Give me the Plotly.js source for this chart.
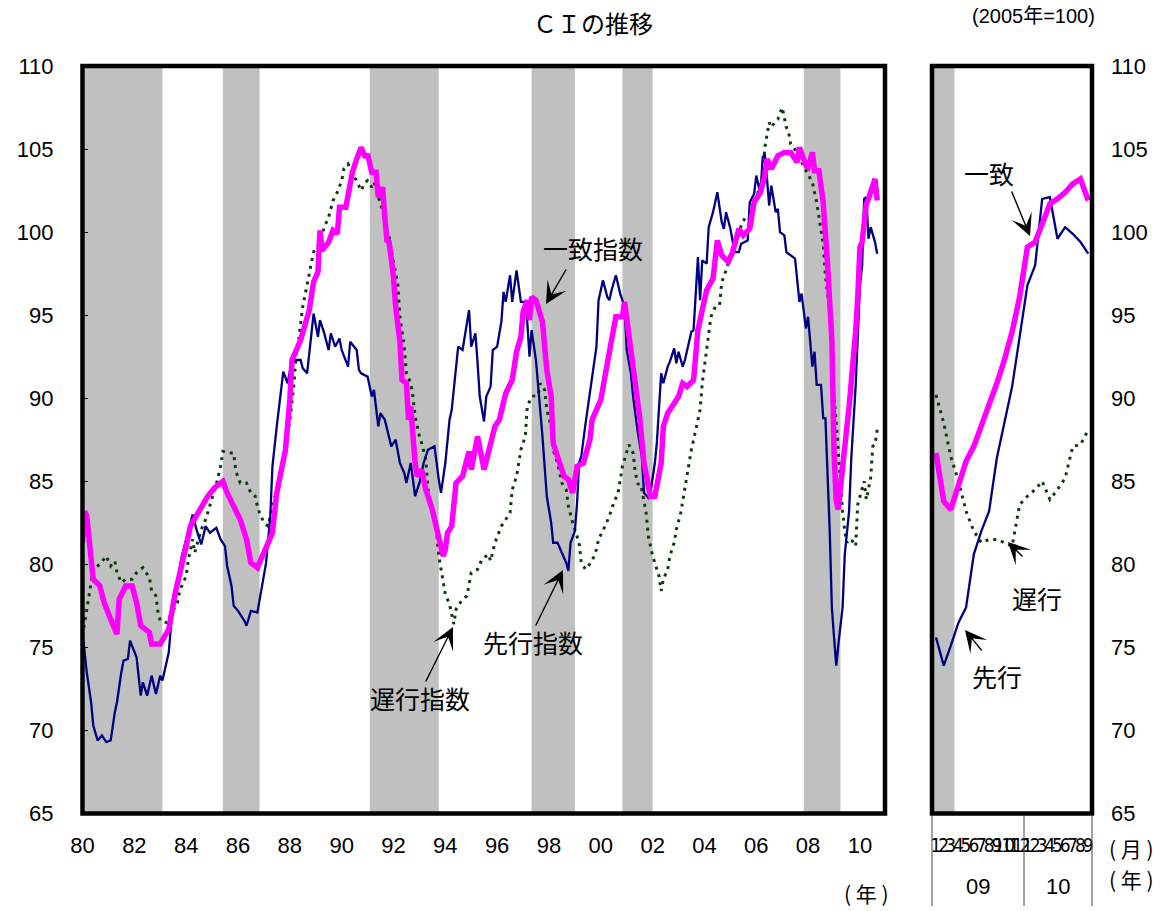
<!DOCTYPE html>
<html><head><meta charset="utf-8">
<script src="https://cdn.plot.ly/plotly-3.0.1.min.js"></script>
<style>html,body{margin:0;padding:0;background:#fff}#chart{width:1162px;height:911px}</style>
</head><body><div id="chart"></div>
<script>
// ---- data (2005 = 100) ----
const coincidentHistory = [
 ['1980-01',81.3],['1980-02',83.2],['1980-03',82.9],['1980-06',79.1],['1980-09',78.7],['1980-11',77.7],
 ['1981-02',76.7],['1981-05',75.8],['1981-06',77.9],['1981-09',78.7],['1981-12',78.7],
 ['1982-02',77.7],['1982-04',76.3],['1982-08',75.9],['1982-09',75.2],
 ['1983-01',75.2],['1983-05',76.1],['1983-08',78.3],
 ['1984-01',81.1],['1984-03',82.3],['1984-07',83.2],['1984-11',84.1],
 ['1985-02',84.6],['1985-06',85.0],['1985-08',84.3],['1985-11',83.5],
 ['1986-02',82.7],['1986-05',81.5],['1986-07',80.1],['1986-10',79.8],
 ['1987-01',80.7],['1987-05',81.9],['1987-07',84.3],['1987-11',86.9],
 ['1988-01',89.9],['1988-02',92.3],['1988-06',93.5],['1988-10',95.3],['1988-12',97.0],
 ['1989-02',97.6],['1989-03',100.1],['1989-04',98.9],['1989-07',99.4],['1989-09',100.1],['1989-11',99.9],['1989-12',101.5],
 ['1990-03',101.5],['1990-06',103.6],['1990-08',104.4],['1990-10',105.1],['1990-12',104.5],
 ['1991-01',104.7],['1991-03',103.6],['1991-05',103.6],['1991-06',102.1],['1991-08',102.7],['1991-09',100.9],['1991-10',99.5],['1991-11',99.4],
 ['1992-01',97.3],['1992-02',95.5],['1992-04',93.4],['1992-05',91.1],['1992-07',90.9],['1992-08',88.7],['1992-09',89.5],['1992-11',86.1],['1992-12',85.3],
 ['1993-02',85.7],['1993-04',84.5],['1993-07',83.3],['1993-09',82.1],['1993-12',80.5],
 ['1994-01',80.9],['1994-02',81.9],['1994-04',82.3],['1994-06',84.9],['1994-09',85.3],['1994-12',86.8],
 ['1995-01',85.7],['1995-04',87.7],['1995-07',85.7],['1995-09',86.7],['1995-12',88.3],
 ['1996-02',88.7],['1996-05',90.3],['1996-08',91.1],['1996-10',92.8],['1996-12',93.7],
 ['1997-01',95.2],['1997-03',95.9],['1997-04',94.7],['1997-05',96.1],['1997-07',95.9],['1997-10',94.6],['1997-12',91.7],
 ['1998-02',90.1],['1998-03',87.3],['1998-06',86.1],['1998-08',85.3],['1998-10',85.1],['1998-12',84.3],
 ['1999-02',85.9],['1999-05',86.1],['1999-08',87.5],['1999-09',88.7],
 ['2000-01',89.9],['2000-04',92.3],['2000-06',93.5],['2000-08',94.9],['2000-11',94.9],['2000-12',95.8],
 ['2001-02',93.5],['2001-05',90.9],['2001-07',88.9],['2001-09',86.1],['2001-12',84.1],
 ['2002-02',84.1],['2002-05',86.1],['2002-06',88.3],['2002-08',89.1],['2002-11',89.7],
 ['2003-01',90.1],['2003-03',90.9],['2003-05',90.7],['2003-08',91.1],['2003-10',94.1],['2003-12',95.3],
 ['2004-02',96.5],['2004-05',97.2],['2004-07',99.5],['2004-09',98.6],['2004-12',98.2],
 ['2005-02',98.8],['2005-05',100.2],['2005-07',99.8],['2005-10',100.2],['2005-12',101.8],
 ['2006-03',102.4],['2006-05',103.4],['2006-06',104.4],['2006-08',103.8],['2006-11',104.6],
 ['2007-02',104.8],['2007-05',104.8],['2007-08',104.2],['2007-09',105.1],['2007-12',104.0],
 ['2008-01',103.9],['2008-03',104.8],['2008-04',103.7],['2008-06',103.7],['2008-08',101.8],['2008-10',98.1],['2008-12',93.5]
];
const leadingHistory = [
 ['1980-01',75.9],['1980-03',73.5],['1980-05',71.7],['1980-06',70.3],['1980-08',69.4],['1980-10',69.7],['1980-12',69.3],
 ['1981-02',69.4],['1981-04',71.1],['1981-05',71.7],['1981-07',73.5],['1981-08',74.2],['1981-10',74.3],['1981-11',75.4],
 ['1982-02',74.4],['1982-03',73.1],['1982-04',72.1],['1982-05',72.9],['1982-07',72.1],['1982-09',73.3],['1982-10',72.7],['1982-11',72.2],
 ['1983-01',73.3],['1983-02',73.0],['1983-05',74.7],['1983-06',76.3],['1983-08',78.3],['1983-11',80.5],
 ['1984-01',81.5],['1984-04',83.0],['1984-06',82.0],['1984-08',81.2],['1984-10',82.3],['1984-12',81.9],
 ['1985-03',82.2],['1985-05',81.5],['1985-07',81.1],['1985-08',79.9],['1985-10',78.7],['1985-11',77.5],
 ['1986-01',77.2],['1986-04',76.6],['1986-05',76.3],['1986-07',77.2],['1986-10',77.1],['1986-12',78.5],
 ['1987-02',80.1],['1987-04',82.9],['1987-05',85.9],['1987-07',88.3],['1987-09',90.7],['1987-10',91.6],['1987-12',90.9],
 ['1988-02',92.3],['1988-06',92.3],['1988-07',91.8],['1988-09',91.5],['1988-11',93.9],['1988-12',95.1],
 ['1989-02',93.7],['1989-03',94.7],['1989-05',93.9],['1989-07',92.9],['1989-08',93.9],['1989-10',93.1],['1989-12',93.6],
 ['1990-01',92.9],['1990-04',91.9],['1990-05',93.4],['1990-08',92.9],['1990-09',91.7],['1990-10',91.5],
 ['1991-01',91.3],['1991-03',90.1],['1991-04',90.5],['1991-06',88.3],['1991-07',89.1],['1991-09',88.7],['1991-12',87.1],
 ['1992-02',87.5],['1992-04',86.1],['1992-06',85.5],['1992-07',84.9],['1992-09',86.1],['1992-11',84.1],
 ['1993-01',84.9],['1993-03',86.1],['1993-05',86.9],['1993-08',87.1],['1993-10',85.1],['1993-11',84.3],
 ['1994-01',86.1],['1994-03',88.7],['1994-04',89.3],['1994-06',91.7],['1994-07',93.1],['1994-09',92.9],['1994-11',94.6],['1994-12',95.3],
 ['1995-01',93.1],['1995-03',93.9],['1995-04',92.1],['1995-05',90.1],['1995-07',88.6],['1995-08',90.1],['1995-10',90.7],['1995-11',92.9],
 ['1996-01',93.1],['1996-03',94.6],['1996-04',96.4],['1996-05',95.8],['1996-07',97.4],['1996-08',95.8],['1996-10',97.7],['1996-12',95.8],
 ['1997-02',95.8],['1997-03',94.6],['1997-04',92.5],['1997-05',94.1],['1997-07',92.3],['1997-08',90.9],['1997-10',87.7],['1997-12',84.1],
 ['1998-02',82.5],['1998-03',81.3],['1998-05',81.3],['1998-07',80.7],['1998-09',80.1],['1998-10',79.6],['1998-11',81.3],
 ['1999-01',82.0],['1999-02',83.7],['1999-03',86.1],['1999-04',86.5],['1999-06',88.5],['1999-08',90.3],['1999-11',93.1],['1999-12',95.9],
 ['2000-02',97.1],['2000-04',96.1],['2000-05',95.9],['2000-06',96.5],['2000-08',97.4],['2000-10',96.3],['2000-12',95.5],
 ['2001-01',92.9],['2001-03',91.5],['2001-04',90.1],['2001-06',88.1],['2001-08',86.5],['2001-09',84.3],['2001-11',84.0],['2001-12',84.3],
 ['2002-02',86.1],['2002-03',87.3],['2002-05',91.5],['2002-06',90.9],['2002-08',91.9],['2002-09',92.2],['2002-11',93.0],['2002-12',92.1],
 ['2003-01',92.8],['2003-03',91.9],['2003-04',92.3],['2003-07',94.0],['2003-08',94.1],['2003-10',98.5],['2003-11',95.9],['2003-12',98.3],
 ['2004-02',98.1],['2004-03',100.3],['2004-05',101.2],['2004-07',102.4],['2004-09',100.6],['2004-10',100.2],['2004-11',101.2],
 ['2005-01',100.2],['2005-03',98.8],['2005-05',98.8],['2005-06',99.3],['2005-09',99.5],['2005-10',101.8],['2005-12',102.3],
 ['2006-01',103.4],['2006-03',102.3],['2006-04',104.5],['2006-05',104.7],['2006-06',103.2],['2006-07',101.6],['2006-08',102.8],['2006-10',101.2],['2006-11',101.4],['2006-12',100.0],
 ['2007-02',99.8],['2007-03',98.8],['2007-05',98.6],['2007-07',98.4],['2007-09',95.8],['2007-10',96.3],['2007-12',94.2],
 ['2008-01',94.9],['2008-03',91.9],['2008-04',92.8],['2008-05',90.8],['2008-07',90.8],['2008-08',88.8],['2008-09',88.8],['2008-11',82.0],['2008-12',77.4]
];
const laggingHistory = [
 ['1980-01',75.7],['1980-03',77.3],['1980-04',78.1],['1980-05',78.7],['1980-06',79.7],['1980-09',80.0],['1980-12',80.5],
 ['1981-02',79.9],['1981-04',80.2],['1981-05',79.5],['1981-07',78.9],['1981-09',79.1],['1981-12',79.1],
 ['1982-02',79.5],['1982-05',79.8],['1982-08',79.2],['1982-09',78.4],['1982-11',78.1],['1982-12',77.1],
 ['1983-01',76.6],['1983-04',76.5],['1983-06',77.0],['1983-09',77.7],['1983-10',78.4],
 ['1984-01',79.3],['1984-02',80.3],['1984-04',81.5],['1984-05',80.7],['1984-08',82.1],['1984-10',82.7],
 ['1985-01',83.9],['1985-03',84.8],['1985-05',85.9],['1985-06',86.8],['1985-09',86.7],['1985-11',86.7],['1985-12',85.6],
 ['1986-02',84.9],['1986-05',84.9],['1986-07',84.3],['1986-09',84.1],['1986-10',83.5],['1986-11',83.1],
 ['1987-01',82.5],['1987-03',82.3],['1987-05',83.5],['1987-08',85.0],['1987-10',86.3],
 ['1988-01',88.6],['1988-03',90.9],['1988-04',92.8],['1988-05',93.4],['1988-07',95.5],['1988-10',97.6],['1988-12',98.8],
 ['1989-03',99.4],['1989-05',100.3],['1989-07',100.9],['1989-09',101.9],['1989-11',102.4],
 ['1990-01',103.1],['1990-02',103.8],['1990-04',104.1],['1990-06',103.5],['1990-08',103.1],['1990-10',102.5],['1990-12',103.0],
 ['1991-01',103.1],['1991-03',102.7],['1991-04',103.0],['1991-06',102.1],['1991-08',101.3],['1991-10',100.1],['1991-11',99.7],
 ['1992-01',98.2],['1992-03',96.9],['1992-04',94.9],['1992-06',93.1],['1992-07',91.5],['1992-09',90.9],['1992-10',90.1],['1992-11',88.9],
 ['1993-01',87.7],['1993-02',87.3],['1993-04',86.3],['1993-05',84.5],['1993-07',83.1],['1993-09',81.9],['1993-10',80.5],['1993-11',79.8],
 ['1994-01',78.2],['1994-03',77.6],['1994-04',76.9],['1994-05',76.4],['1994-06',77.3],['1994-09',77.9],['1994-11',78.1],['1994-12',78.9],
 ['1995-01',79.5],['1995-04',79.7],['1995-06',80.3],['1995-09',80.6],['1995-10',80.2],['1995-12',81.3],
 ['1996-03',82.3],['1996-05',82.7],['1996-07',83.1],['1996-08',84.5],['1996-10',85.3],['1996-11',86.1],['1996-12',86.9],
 ['1997-02',87.7],['1997-03',89.5],['1997-05',90.1],['1997-08',90.2],['1997-09',90.9],['1997-11',90.5],['1997-12',89.3],
 ['1998-02',88.3],['1998-03',86.9],['1998-05',86.1],['1998-07',84.9],['1998-09',84.5],['1998-10',83.5],['1998-12',82.5],
 ['1999-03',81.3],['1999-04',80.1],['1999-06',79.7],['1999-09',80.2],['1999-11',80.9],['1999-12',81.5],
 ['2000-03',82.3],['2000-05',82.9],['2000-07',83.7],['2000-09',84.3],['2000-11',85.9],
 ['2001-01',86.7],['2001-02',87.2],['2001-04',86.7],['2001-05',85.5],['2001-07',84.5],['2001-08',84.5],['2001-10',83.1],['2001-11',81.7],
 ['2002-01',80.5],['2002-03',79.7],['2002-04',79.3],['2002-05',78.4],['2002-06',79.1],['2002-08',79.7],['2002-09',80.5],['2002-11',81.3],['2002-12',82.1],
 ['2003-02',83.1],['2003-04',84.5],['2003-06',86.1],['2003-07',86.9],['2003-09',88.1],['2003-11',89.3],['2003-12',90.9],
 ['2004-02',93.1],['2004-04',94.9],['2004-06',95.5],['2004-08',95.6],['2004-09',97.0],['2004-11',97.7],
 ['2005-01',98.6],['2005-03',99.3],['2005-05',99.8],['2005-06',100.4],['2005-08',100.9],['2005-10',101.0],['2005-12',101.6],
 ['2006-02',102.5],['2006-04',103.4],['2006-05',105.1],['2006-07',106.6],['2006-08',106.3],['2006-10',106.7],['2006-11',106.8],
 ['2007-01',107.5],['2007-03',106.3],['2007-04',106.0],['2007-05',105.3],['2007-08',104.8],['2007-10',104.2],
 ['2008-01',103.5],['2008-03',103.0],['2008-05',101.8],['2008-06',100.9],['2008-08',99.3],['2008-09',97.4],['2008-11',95.2],['2008-12',93.3]
];
// monthly detail, Jan 2009 – Sep 2010 (right panel)
const recentMonths = ['2009-01','2009-02','2009-03','2009-04','2009-05','2009-06','2009-07','2009-08','2009-09','2009-10','2009-11','2009-12',
                      '2010-01','2010-02','2010-03','2010-04','2010-05','2010-06','2010-07','2010-08','2010-09'];
const recentMonthLabels = ['1','2','3','4','5','6','7','8','9','10','11','12','1','2','3','4','5','6','7','8','9'];
const recentCoincident = [86.7,83.8,83.3,84.8,86.2,87.1,88.3,89.5,90.9,92.3,94.0,96.1,99.1,99.4,100.4,101.7,102.0,102.4,102.9,103.2,101.9];
const recentLeading    = [75.6,73.9,75.1,76.5,77.4,80.6,82.0,83.2,86.4,88.6,90.7,93.7,96.8,98.0,102.0,102.1,99.6,100.3,99.9,99.4,98.7];
const recentLagging    = [90.2,88.5,86.5,85.0,83.2,82.0,81.3,81.5,81.5,81.3,81.1,83.6,84.1,84.5,85.0,83.9,84.5,85.2,87.1,87.2,88.1];
const recentYearLabels = ['09','10'];

const recessions = [['1980-02','1983-02'],['1985-06','1986-11'],['1991-02','1993-10'],['1997-05','1999-01'],['2000-11','2002-01'],['2007-11','2009-04']];
const recentRecession = ['2009-01','2009-03'];

const yTicks = [65,70,75,80,85,90,95,100,105,110];
const yearTickDates = ['1980','1982','1984','1986','1988','1990','1992','1994','1996','1998','2000','2002','2004','2006','2008','2010'];
const yearTickLabels = ['80','82','84','86','88','90','92','94','96','98','00','02','04','06','08','10'];

// ---- build ----
const W = 1162, H = 911;
const px = v => v / W, py = v => 1 - v / H;
const join = (hist, vals) => ({x: hist.map(d => d[0]).concat(recentMonths), y: hist.map(d => d[1]).concat(vals)});
const C = join(coincidentHistory, recentCoincident);
const L = join(leadingHistory, recentLeading);
const G = join(laggingHistory, recentLagging);

const magenta = '#FF00FF', navy = '#000080', green = '#0B3D0B';
const traces = [
  {x: G.x, y: G.y, xaxis: 'x', yaxis: 'y', mode: 'lines', line: {color: green, width: 3, dash: '3px,5px'}, name: '遅行指数'},
  {x: L.x, y: L.y, xaxis: 'x', yaxis: 'y', mode: 'lines', line: {color: navy, width: 2.3}, name: '先行指数'},
  {x: C.x, y: C.y, xaxis: 'x', yaxis: 'y', mode: 'lines', line: {color: magenta, width: 5.5}, name: '一致指数'},
  {x: recentMonths, y: recentLagging, xaxis: 'x2', yaxis: 'y2', mode: 'lines', line: {color: green, width: 3, dash: '3px,5px'}},
  {x: recentMonths, y: recentLeading, xaxis: 'x2', yaxis: 'y2', mode: 'lines', line: {color: navy, width: 2.3}},
  {x: recentMonths, y: recentCoincident, xaxis: 'x2', yaxis: 'y2', mode: 'lines', line: {color: magenta, width: 5.5}}
];

function monthShift(s, months, days) {
  const t = new Date(s + '-01T00:00:00Z');
  t.setUTCMonth(t.getUTCMonth() + months); t.setUTCDate(t.getUTCDate() + days);
  return t.toISOString().slice(0, 10);
}

const shapes = [];
recessions.forEach(r => shapes.push({type: 'rect', xref: 'x', yref: 'y', x0: r[0], x1: r[1], y0: 65, y1: 110,
  fillcolor: '#C0C0C0', line: {width: 0}, layer: 'below'}));
shapes.push({type: 'rect', xref: 'x2', yref: 'y2', x0: monthShift(recentRecession[0], 0, -16), x1: monthShift(recentRecession[1], 1, -16),
  y0: 65, y1: 110, fillcolor: '#C0C0C0', line: {width: 0}, layer: 'below'});
['x', 'x2'].forEach(ax => {
  const yr = (ax === 'x' ? 'y' : 'y2') + ' domain';
  shapes.push({type: 'rect', xref: ax + ' domain', yref: yr, x0: 0, x1: 1, y0: 0, y1: 1, line: {color: '#000', width: 4.5}, fillcolor: 'rgba(0,0,0,0)', layer: 'above'});
});
[932, 1024, 1092].forEach(xp => shapes.push({type: 'line', xref: 'paper', yref: 'paper', x0: px(xp), x1: px(xp), y0: py(816), y1: py(906), line: {color: '#444', width: 1}}));

const jp = 'Noto Sans CJK JP, sans-serif';
const num = 'Liberation Sans, Arial, sans-serif';
const ann = (text, x, y, size, fam) => ({text, x: px(x), y: py(y), xref: 'paper', yref: 'paper', showarrow: false, xanchor: 'center', yanchor: 'middle', font: {family: fam || jp, size: size || 24, color: '#000'}});
const arrow = (hx, hy, tx, ty) => ({text: '', x: px(hx), y: py(hy), xref: 'paper', yref: 'paper', showarrow: true, ax: tx - hx, ay: ty - hy,
  arrowhead: 3, arrowsize: 2.6, arrowwidth: 1.4, arrowcolor: '#000'});

const annotations = [
  ann('ＣＩの推移', 593, 22, 24),
  ann('(2005年=100)', 1033, 16, 20, 'Liberation Sans, Noto Sans CJK JP'),
  ann('一致指数', 593, 248, 25), arrow(546, 304, 567, 268),
  ann('先行指数', 533, 642, 25), arrow(563, 570, 535, 627),
  ann('遅行指数', 420, 698, 25), arrow(453, 627, 425, 683),
  ann('一致', 989, 173, 25), arrow(1030, 236, 1011, 190),
  ann('遅行', 1037, 598, 25), arrow(1008, 542, 1024, 558),
  ann('先行', 997, 676, 25), arrow(965, 630, 983, 652),
  ann('( 年 )', 866, 893, 21),
  ann('( 月 )', 1131, 848, 21),
  ann('( 年 )', 1131, 879, 21),
  ann(recentYearLabels[0], 978, 886, 22, num),
  ann(recentYearLabels[1], 1058, 886, 22, num)
];

const yDomain = [py(813.5), py(66)];
const yBase = {range: [65, 110], tickmode: 'array', tickvals: yTicks, showgrid: false, zeroline: false, showline: false,
  tickfont: {family: num, size: 22, color: '#000'}, domain: yDomain, fixedrange: true};

const layout = {
  width: W, height: H, margin: {l: 0, r: 0, t: 0, b: 0}, paper_bgcolor: '#fff', plot_bgcolor: '#fff', showlegend: false,
  xaxis: {type: 'date', domain: [px(82.5), px(885)], range: ['1980-01-01', '2010-12-20'], anchor: 'y',
    tickmode: 'array', tickvals: yearTickDates.map(y => y + '-01-01'), ticktext: yearTickLabels, ticks: '', tickangle: 0,
    showgrid: false, zeroline: false, showline: false, tickfont: {family: num, size: 22, color: '#000'}, ticklabelstandoff: 16},
  yaxis: Object.assign({}, yBase, {anchor: 'x', side: 'left', ticks: 'inside', ticklen: 5, tickcolor: '#000', ticklabelstandoff: 28}),
  xaxis2: {type: 'date', domain: [px(932), px(1092)], range: ['2008-12-16', '2010-09-16'], anchor: 'y2',
    tickmode: 'array', tickvals: recentMonths.map(m => m + '-01'), ticktext: recentMonthLabels, ticks: '', tickangle: 0,
    showgrid: false, zeroline: false, showline: false, tickfont: {family: 'Liberation Sans Narrow, DejaVu Sans Condensed, sans-serif', size: 19, color: '#000'}, ticklabelstandoff: 18},
  yaxis2: Object.assign({}, yBase, {anchor: 'x2', side: 'right', ticks: '', ticklabelstandoff: 18}),
  shapes, annotations
};

Plotly.newPlot('chart', traces, layout, {staticPlot: true, displayModeBar: false});
</script></body></html>
